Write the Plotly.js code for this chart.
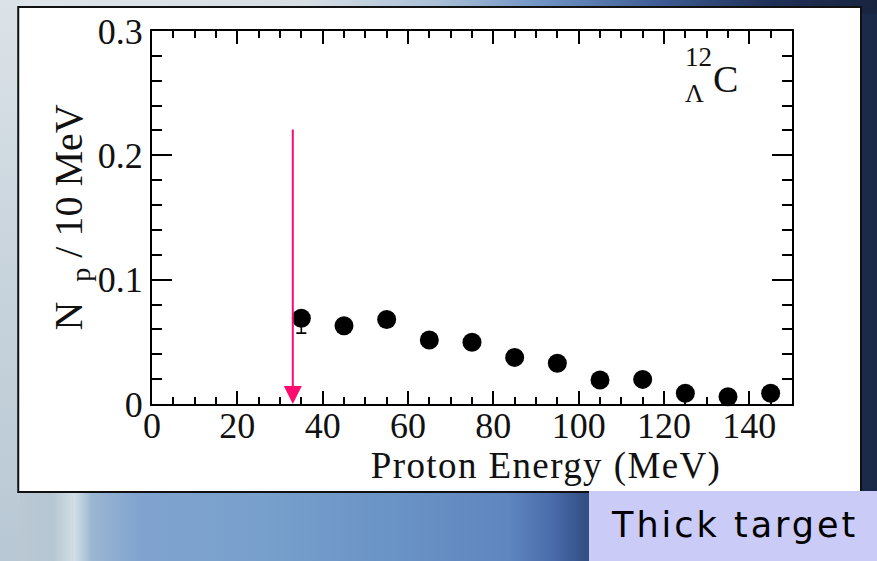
<!DOCTYPE html>
<html>
<head>
<meta charset="utf-8">
<script src="https://cdn.plot.ly/plotly-3.0.1.min.js"></script>
<style>
  html, body { margin: 0; padding: 0; }
  #wrap {
    position: relative; width: 877px; height: 561px; overflow: hidden;
    background: linear-gradient(90deg, #bccad4 0%, #b6c6d2 6%, #d2dee6 8.5%, #9bb6d2 10.5%,
      #80a3cf 16%, #78a0cc 30%, #6a93c6 45%, #5f86bf 58%, #4a6cab 63%, #2c4679 68%,
      #22355f 80%, #1a2948 100%);
  }
  #topband {
    position: absolute; left: 0; top: 0; width: 877px; height: 14px;
    background: linear-gradient(90deg, #dfe5ea 0%, #d6dee4 35%, #a9bfd6 50%, #6e92c4 62%,
      #3e5d94 75%, #1f3058 88%, #18243f 100%);
  }
  #leftband {
    position: absolute; left: 0; top: 0; width: 20px; height: 561px;
    background: linear-gradient(180deg, #dce3e8 0%, #cbd6de 40%, #b8c8d4 100%);
  }
  #chart { position: absolute; left: 0; top: 0; width: 877px; height: 561px; }
  /* wider tracking for the x title and the caption box */
  #chart .annotation[data-index="0"] .annotation-text { letter-spacing: 1.4px; }
  #chart .annotation[data-index="5"] .annotation-text { letter-spacing: 3px; }
</style>
</head>
<body>
<div id="wrap">
  <div id="topband"></div>
  <div id="leftband"></div>
  <div id="chart"></div>
</div>
<script>
// Proton energy spectrum (per 10 MeV bin)
const energyMeV = [35, 45, 55, 65, 75, 85, 95, 105, 115, 125, 135, 145];
const protonsPer10MeV = [0.069, 0.063, 0.068, 0.0515, 0.0496, 0.0375, 0.0327, 0.0193, 0.0198, 0.0086, 0.0059, 0.0086];
const errUp = [0.005, 0, 0, 0, 0, 0, 0, 0, 0, 0, 0, 0];
const errDown = [0.012, 0, 0, 0, 0, 0, 0, 0, 0, 0, 0, 0];

// threshold marker (arrow from top down to the axis)
const thresholdMeV = 33;
const arrowTop = 0.222;

const xTicks = [0, 20, 40, 60, 80, 100, 120, 140];
const yTicks = [0, 0.1, 0.2, 0.3];
const yTickText = ['0', '0.1', '0.2', '0.3'];

const serif = 'Liberation Serif, Times New Roman, serif';

const trace = {
  type: 'scatter', mode: 'markers',
  x: energyMeV, y: protonsPer10MeV,
  marker: { color: '#000', size: 19 },
  error_y: { type: 'data', symmetric: false, array: errUp, arrayminus: errDown,
             color: '#000', thickness: 1.6, width: 5 },
  cliponaxis: false,
  hoverinfo: 'x+y'
};

const axisCommon = {
  showgrid: false, zeroline: false,
  showline: true, linecolor: '#000', linewidth: 2,
  mirror: 'ticks', ticks: 'inside', tickcolor: '#000', tickwidth: 2,
  tickfont: { family: serif, size: 36, color: '#111' }
};

const layout = {
  width: 877, height: 561,
  margin: { l: 152, r: 85, t: 31, b: 157 },
  paper_bgcolor: 'rgba(0,0,0,0)',
  plot_bgcolor: '#fff',
  showlegend: false,
  xaxis: Object.assign({}, axisCommon, {
    range: [0, 150], tickmode: 'array', tickvals: xTicks, ticklen: 13,
    ticklabelstandoff: -11,
    minor: { dtick: 5, ticks: 'inside', ticklen: 7, tickcolor: '#000', tickwidth: 2 }
  }),
  yaxis: Object.assign({}, axisCommon, {
    range: [0, 0.3], tickmode: 'array', tickvals: yTicks, ticktext: yTickText, ticklen: 20,
    minor: { dtick: 0.02, ticks: 'inside', ticklen: 10, tickcolor: '#000', tickwidth: 2 },
    title: { text: 'N\u00a0\u00a0<sub>p</sub> / 10 MeV', standoff: 3,
             font: { family: serif, size: 40, color: '#111' } }
  }),
  shapes: [
    { type: 'rect', xref: 'paper', yref: 'paper', layer: 'below',
      x0: -0.209, x1: 1.1078, y0: -0.2359, y1: 1.0643,
      fillcolor: '#fff', line: { color: '#111', width: 2 } },
    { type: 'rect', xref: 'paper', yref: 'paper', layer: 'above',
      x0: 0.6828, x1: 1.14, y0: -0.45, y1: -0.2332,
      fillcolor: '#cbcbf8', line: { width: 0 } }
  ],
  annotations: [
    { xref: 'paper', yref: 'paper', x: 0.6164, y: -0.1649, xanchor: 'center', yanchor: 'middle',
      text: 'Proton Energy (MeV)', showarrow: false,
      font: { family: serif, size: 37, color: '#111' } },
    { xref: 'x', yref: 'y', x: 128.2, y: 0.2787, xanchor: 'center', yanchor: 'middle',
      text: '12', showarrow: false, font: { family: serif, size: 27, color: '#111' } },
    { xref: 'x', yref: 'y', x: 127.1, y: 0.2498, xanchor: 'center', yanchor: 'middle',
      text: '\u039b', showarrow: false, font: { family: serif, size: 26, color: '#111' } },
    { xref: 'x', yref: 'y', x: 134.4, y: 0.261, xanchor: 'center', yanchor: 'middle',
      text: 'C', showarrow: false, font: { family: serif, size: 38, color: '#111' } },
    { xref: 'x', yref: 'y', axref: 'x', ayref: 'y',
      x: thresholdMeV, y: 0, ax: thresholdMeV, ay: arrowTop,
      text: '', showarrow: true, arrowhead: 2, arrowsize: 1.8, arrowwidth: 2,
      arrowcolor: '#ff0a6e', standoff: 0 },
    { xref: 'paper', yref: 'paper', x: 0.9094, y: -0.325, xanchor: 'center', yanchor: 'middle',
      text: 'Thick target', showarrow: false,
      font: { family: 'DejaVu Sans, Verdana, sans-serif', size: 35, color: '#000' } }
  ]
};

Plotly.newPlot('chart', [trace], layout, { displayModeBar: false, staticPlot: true });
</script>
</body>
</html>
